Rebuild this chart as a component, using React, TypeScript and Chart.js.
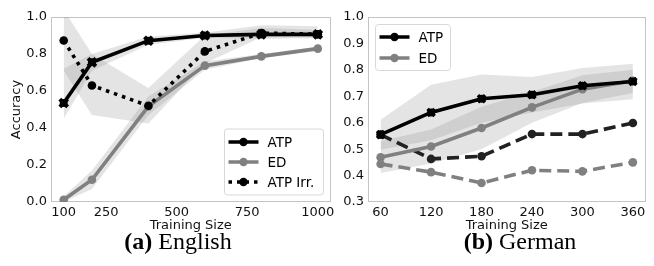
import React, { useEffect, useRef } from "react";
import { Chart, registerables } from "chart.js";
Chart.register(...registerables);

// ---------- English (a) ----------
const enSizes = [100, 200, 400, 600, 800, 1000];
const enTicks = [100, 250, 500, 750, 1000];
const enYTicks = [0.0, 0.2, 0.4, 0.6, 0.8, 1.0];
const enATP = [0.535, 0.755, 0.872, 0.9, 0.906, 0.906];
const enATPLow = [0.45, 0.71, 0.85, 0.888, 0.882, 0.885];
const enATPHigh = [0.72, 0.8, 0.895, 0.915, 0.955, 0.95];
const enED = [0.012, 0.12, 0.517, 0.737, 0.787, 0.829];
const enEDLow = [0.0, 0.07, 0.47, 0.715, 0.778, 0.818];
const enEDHigh = [0.03, 0.17, 0.57, 0.76, 0.8, 0.84];
const enIrr = [0.873, 0.63, 0.52, 0.814, 0.913, 0.907];
const enIrrLow = [0.71, 0.47, 0.425, 0.75, 0.89, 0.89];
const enIrrHigh = [1.04, 0.8, 0.616, 0.9, 0.94, 0.93];

// ---------- German (b) ----------
const deSizes = [60, 120, 180, 240, 300, 360];
const deTicks = [60, 120, 180, 240, 300, 360];
const deYTicks = [0.3, 0.4, 0.5, 0.6, 0.7, 0.8, 0.9, 1.0];
const deATP = [0.555, 0.639, 0.691, 0.706, 0.74, 0.756];
const deATPLow = [0.498, 0.534, 0.6, 0.639, 0.673, 0.689];
const deATPHigh = [0.611, 0.744, 0.782, 0.773, 0.807, 0.823];
const deED = [0.469, 0.51, 0.58, 0.658, 0.727, 0.759];
const deEDLow = [0.41, 0.446, 0.5, 0.6, 0.675, 0.712];
const deEDHigh = [0.53, 0.574, 0.66, 0.716, 0.78, 0.8];
const deATPIrr = [0.555, 0.463, 0.473, 0.557, 0.557, 0.599];
const deEDIrr = [0.444, 0.413, 0.372, 0.42, 0.416, 0.45];

const BLACK = "#000000";
const GRAY = "#808080";
const DARK = "#222222";
const BAND = "rgba(128,128,128,0.21)";
const FONT = "'DejaVu Sans', sans-serif";

const xy = (xs: number[], ys: number[]) => xs.map((x, i) => ({ x, y: ys[i] }));

const band = (xs: number[], lo: number[], hi: number[]) => [
  { data: xy(xs, lo), borderWidth: 0, pointRadius: 0, fill: false, backgroundColor: BAND, borderColor: "transparent" },
  { data: xy(xs, hi), borderWidth: 0, pointRadius: 0, fill: "-1", backgroundColor: BAND, borderColor: "transparent" },
];

const framePlugin = {
  id: "frame",
  beforeDatasetsDraw(chart: any) {
    const { ctx, chartArea: a } = chart;
    ctx.save();
    ctx.strokeStyle = "#c4c4c4";
    ctx.lineWidth = 1;
    ctx.strokeRect(Math.round(a.left) + 0.5, Math.round(a.top) + 0.5, Math.round(a.right - a.left) - 1, Math.round(a.bottom - a.top) - 1);
    ctx.restore();
  },
};

type LegendItem = { label: string; color: string; dash: number[]; radius: number };

const legendPlugin = {
  id: "boxLegend",
  afterDraw(chart: any) {
    const opts = chart.options.plugins.boxLegend;
    if (!opts) return;
    const { ctx, chartArea: a } = chart;
    const items: LegendItem[] = opts.items;
    const w = opts.width;
    const rowH = opts.rowHeight;
    const h = opts.padY * 2 + rowH * items.length;
    const x0 = opts.corner === "br" ? a.right - opts.inset - w : a.left + opts.inset;
    const y0 = opts.corner === "br" ? a.bottom - opts.inset - h : a.top + opts.inset;
    ctx.save();
    ctx.beginPath();
    const r = 3;
    ctx.moveTo(x0 + r, y0);
    ctx.arcTo(x0 + w, y0, x0 + w, y0 + h, r);
    ctx.arcTo(x0 + w, y0 + h, x0, y0 + h, r);
    ctx.arcTo(x0, y0 + h, x0, y0, r);
    ctx.arcTo(x0, y0, x0 + w, y0, r);
    ctx.closePath();
    ctx.fillStyle = "rgba(255,255,255,0.85)";
    ctx.fill();
    ctx.strokeStyle = "#d8d8d8";
    ctx.lineWidth = 1;
    ctx.stroke();
    items.forEach((it, i) => {
      const cy = y0 + opts.padY + rowH * (i + 0.5);
      const lx = x0 + 4;
      ctx.beginPath();
      ctx.setLineDash(it.dash);
      ctx.strokeStyle = it.color;
      ctx.lineWidth = 3.5;
      ctx.moveTo(lx, cy);
      ctx.lineTo(lx + 30, cy);
      ctx.stroke();
      ctx.setLineDash([]);
      ctx.beginPath();
      ctx.arc(lx + 15, cy, it.radius, 0, Math.PI * 2);
      ctx.fillStyle = it.color;
      ctx.fill();
      ctx.fillStyle = "#000";
      ctx.font = `13.5px ${FONT}`;
      ctx.textBaseline = "middle";
      ctx.textAlign = "left";
      ctx.fillText(it.label, lx + 39, cy + 1);
    });
    ctx.restore();
  },
};

function makeOptions(p: {
  xMin: number; xMax: number; xTicks: number[];
  yMin: number; yMax: number; yTicks: number[];
  yWidth: number; yTitle: string | null; padRight: number;
  legend: any;
}) {
  return {
    responsive: false,
    animation: false,
    devicePixelRatio: 1,
    layout: { padding: { left: 0, right: p.padRight, top: 17, bottom: 0 } },
    plugins: { legend: { display: false }, tooltip: { enabled: false }, boxLegend: p.legend },
    scales: {
      x: {
        type: "linear",
        min: p.xMin,
        max: p.xMax,
        grid: { display: false, drawTicks: false },
        border: { display: false },
        afterBuildTicks: (s: any) => { s.ticks = p.xTicks.map((v) => ({ value: v })); },
        afterFit: (s: any) => { s.height = 31; },
        ticks: { autoSkip: false, maxRotation: 0, padding: 3, color: "#111", font: { family: FONT, size: 13 }, callback: (v: any) => String(v) },
        title: { display: true, text: "Training Size", color: "#111", font: { family: FONT, size: 13 }, padding: { top: 0, bottom: 0 } },
      },
      y: {
        type: "linear",
        min: p.yMin,
        max: p.yMax,
        grid: { display: false, drawTicks: false },
        border: { display: false },
        afterBuildTicks: (s: any) => { s.ticks = p.yTicks.map((v) => ({ value: v })); },
        afterFit: (s: any) => { s.width = p.yWidth; },
        ticks: { autoSkip: false, padding: 4, color: "#111", font: { family: FONT, size: 13 }, callback: (v: any) => Number(v).toFixed(1) },
        title: p.yTitle
          ? { display: true, text: p.yTitle, color: "#111", font: { family: FONT, size: 13 }, padding: { top: 9, bottom: 0 } }
          : { display: false },
      },
    },
  };
}

function ChartCanvas({ config, left, width, height }: { config: any; left: number; width: number; height: number }) {
  const ref = useRef<HTMLCanvasElement | null>(null);
  useEffect(() => {
    if (!ref.current) return;
    const chart = new Chart(ref.current, config);
    return () => chart.destroy();
  }, []);
  return (
    <canvas
      ref={ref}
      width={width}
      height={height}
      style={{ position: "absolute", left, top: 0, width, height }}
    />
  );
}

const englishConfig = {
  type: "line",
  data: {
    datasets: [
      { data: xy(enSizes, enATP), showLine: false, pointStyle: "crossRot", pointRadius: 5.5, borderWidth: 4, borderColor: BLACK, backgroundColor: BLACK },
      { data: xy(enSizes, enATP), borderColor: BLACK, backgroundColor: BLACK, borderWidth: 3.6, pointRadius: 4, pointBorderWidth: 0, tension: 0 },
      { data: xy(enSizes, enIrr), borderColor: BLACK, backgroundColor: BLACK, borderWidth: 3.6, borderDash: [3.5, 5], pointRadius: 4.3, pointBorderWidth: 0, tension: 0 },
      { data: xy(enSizes, enED), borderColor: GRAY, backgroundColor: GRAY, borderWidth: 3.6, pointRadius: 4.3, pointBorderWidth: 0, tension: 0 },
      ...band(enSizes, enATPLow, enATPHigh),
      ...band(enSizes, enEDLow, enEDHigh),
      ...band(enSizes, enIrrLow, enIrrHigh),
    ],
  },
  options: makeOptions({
    xMin: 55, xMax: 1045, xTicks: enTicks,
    yMin: 0, yMax: 1, yTicks: enYTicks,
    yWidth: 51, yTitle: "Accuracy", padRight: 5,
    legend: {
      corner: "br", inset: 7, width: 99, rowHeight: 20, padY: 3,
      items: [
        { label: "ATP", color: BLACK, dash: [], radius: 4.2 },
        { label: "ED", color: GRAY, dash: [], radius: 4.2 },
        { label: "ATP Irr.", color: BLACK, dash: [3.5, 5], radius: 4.2 },
      ],
    },
  }),
  plugins: [framePlugin, legendPlugin],
};

const germanConfig = {
  type: "line",
  data: {
    datasets: [
      { data: xy(deSizes, deATP), showLine: false, pointStyle: "crossRot", pointRadius: 5, borderWidth: 3.5, borderColor: BLACK, backgroundColor: BLACK },
      { data: xy(deSizes, deATP), borderColor: BLACK, backgroundColor: BLACK, borderWidth: 3.6, pointRadius: 4, pointBorderWidth: 0, tension: 0 },
      { data: xy(deSizes, deED), borderColor: GRAY, backgroundColor: GRAY, borderWidth: 3.6, pointRadius: 4.3, pointBorderWidth: 0, tension: 0 },
      { data: xy(deSizes, deATPIrr), borderColor: DARK, backgroundColor: DARK, borderWidth: 3.6, borderDash: [12, 6], pointRadius: 4.3, pointBorderWidth: 0, tension: 0 },
      { data: xy(deSizes, deEDIrr), borderColor: GRAY, backgroundColor: GRAY, borderWidth: 3.6, borderDash: [12, 6], pointRadius: 4.3, pointBorderWidth: 0, tension: 0 },
      ...band(deSizes, deATPLow, deATPHigh),
      ...band(deSizes, deEDLow, deEDHigh),
    ],
  },
  options: makeOptions({
    xMin: 45, xMax: 375, xTicks: deTicks,
    yMin: 0.3, yMax: 1.0, yTicks: deYTicks,
    yWidth: 28, yTitle: null, padRight: 1,
    legend: {
      corner: "tl", inset: 7.5, width: 75, rowHeight: 21, padY: 2,
      items: [
        { label: "ATP", color: BLACK, dash: [], radius: 4.2 },
        { label: "ED", color: GRAY, dash: [], radius: 4.2 },
      ],
    },
  }),
  plugins: [framePlugin, legendPlugin],
};

const captionStyle: React.CSSProperties = {
  position: "absolute",
  top: 226,
  fontFamily: "'Liberation Serif', 'Times New Roman', serif",
  fontSize: 24,
  color: "#000",
  whiteSpace: "nowrap",
  transform: "translateX(-50%)",
  lineHeight: "30px",
};

export default function App() {
  return (
    <div style={{ position: "absolute", left: 0, top: 0, width: 654, height: 266, background: "#fff", overflow: "hidden" }}>
      <ChartCanvas config={englishConfig} left={0} width={340} height={233} />
      <ChartCanvas config={germanConfig} left={340} width={314} height={233} />
      <div style={{ ...captionStyle, left: 178 }}>
        <b>(a)</b> English
      </div>
      <div style={{ ...captionStyle, left: 520 }}>
        <b>(b)</b> German
      </div>
    </div>
  );
}
